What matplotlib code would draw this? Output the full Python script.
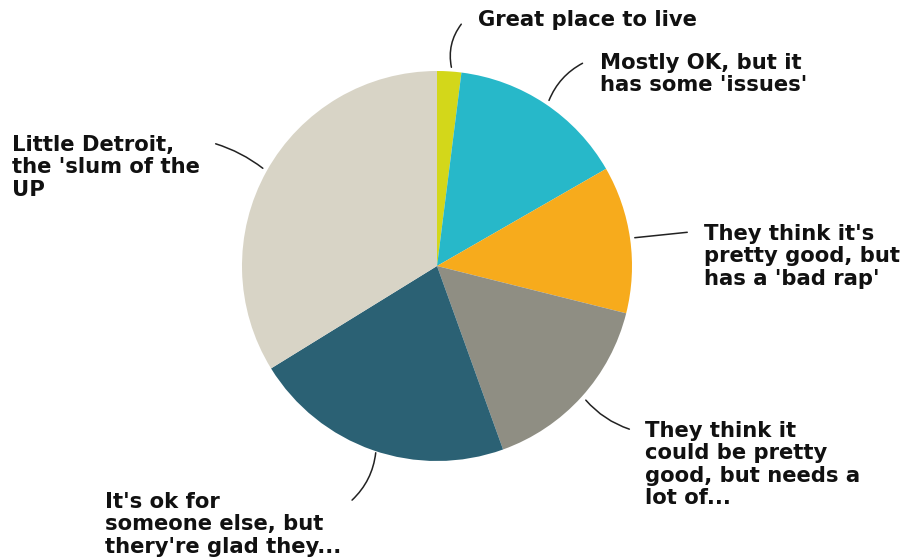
import matplotlib
matplotlib.use("Agg")
import matplotlib.pyplot as plt

labels = ["Great place to live",
          "Mostly OK, but it\nhas some 'issues'",
          "They think it's\npretty good, but\nhas a 'bad rap'",
          "They think it\ncould be pretty\ngood, but needs a\nlot of...",
          "It's ok for\nsomeone else, but\nthery're glad they...",
          "Little Detroit,\nthe 'slum of the\nUP"]
values = [2.0, 14.7, 12.2, 15.6, 21.7, 33.8]
colors = ["#d3d71a", "#27b8c9", "#f7ab1c", "#8f8e83", "#2b6174", "#d8d4c6"]

W, H = 909, 560
fig = plt.figure(figsize=(W / 100, H / 100), dpi=100)
ax = fig.add_axes([0, 0, 1, 1])

cx, cy, r = 437, H - 266, 195
ax.pie(values, colors=colors, startangle=90, counterclock=False,
       center=(cx, cy), radius=r, frame=True,
       wedgeprops=dict(linewidth=0))
ax.set_xlim(0, W)
ax.set_ylim(0, H)
ax.set_aspect("equal")
ax.axis("off")

# (text x, text top y, line start on pie, line end near text, curvature) in pixels from top-left
layout = [
    (478, 10, (452, 70), (463, 22), -0.25),
    (600, 53, (548, 103), (585, 62), -0.2),
    (704, 224, (632, 238), (690, 232), 0.0),
    (645, 421, (584, 398), (632, 430), 0.15),
    (105, 492, (376, 450), (350, 502), -0.2),
    (12, 135, (265, 170), (213, 143), 0.1),
]

for lab, (tx, ty, p0, p1, rad) in zip(labels, layout):
    ax.text(tx, H - ty, lab, ha="left", va="top", fontsize=15.2,
            fontweight="bold", color="#111111", linespacing=1.15,
            family="DejaVu Sans")
    ax.annotate("", xy=(p1[0], H - p1[1]), xytext=(p0[0], H - p0[1]),
                arrowprops=dict(arrowstyle="-", color="#222222", lw=1.1,
                                connectionstyle="arc3,rad=%s" % rad))

fig.savefig("out.png", dpi=100)
